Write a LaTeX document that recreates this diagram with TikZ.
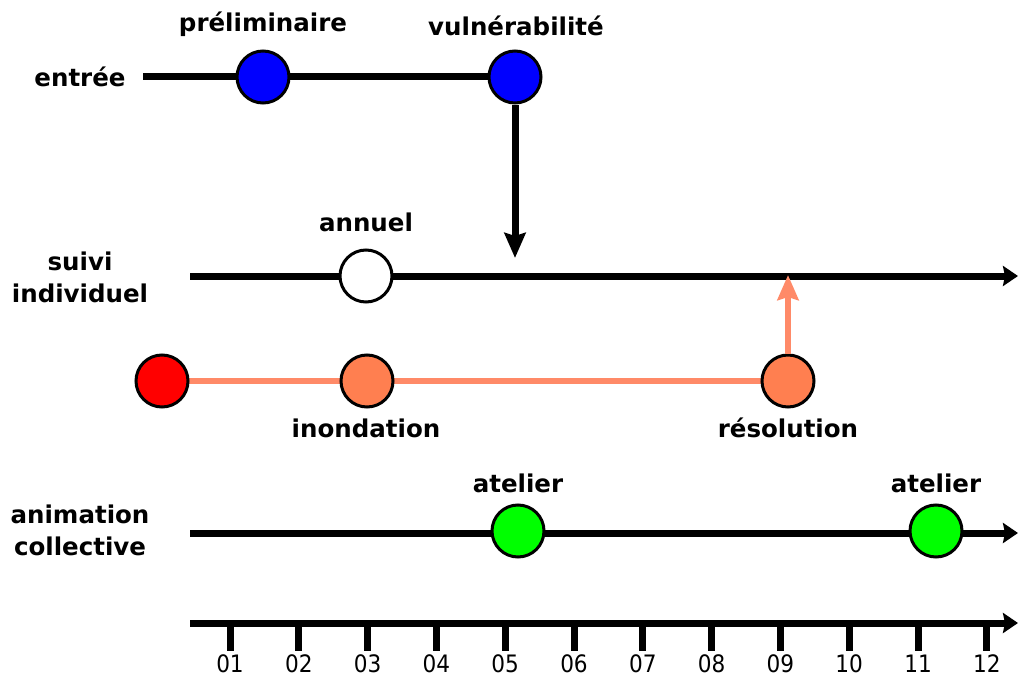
\documentclass[tikz,border=0pt]{standalone}
\usepackage{fontspec}
\setmainfont{DejaVu Sans}
\newfontfamily\condfont{DejaVu Sans Condensed}
\usetikzlibrary{arrows.meta,backgrounds}
\definecolor{coralfill}{RGB}{255,127,80}
\definecolor{coralline}{RGB}{255,138,104}
\tikzset{
  dot/.style={circle,draw=black,line width=3pt,minimum size=52pt,inner sep=0pt},
  lbl/.style={font=\fontsize{24.5}{32}\selectfont\bfseries,align=center,inner sep=0pt},
  num/.style={font=\fontsize{24}{26}\selectfont\condfont,inner sep=0pt},
  thick line/.style={line width=7pt,draw=black},
  big arrow/.style={-{Stealth[length=25pt,width=21pt,inset=3pt]}},
  axis arrow/.style={-{Stealth[length=15pt,width=20pt,inset=2pt]}},
  tick/.style={line width=7pt}
}
\begin{document}
\begin{tikzpicture}[x=1pt,y=-1pt]
\useasboundingbox (0,0) rectangle (1018,677);
% row labels
\node[lbl] (lentree) at (80,77) {entrée};
\node[lbl] (lsuivi) at (80,277) {suivi\\individuel};
\node[lbl] (lanim) at (80,530) {animation\\collective};
% entree row
\coordinate (e0) at (143,77);
\node[dot,fill=blue] (pre) at (263,77) {};
\node[dot,fill=blue] (vul) at (515,77) {};
\node[lbl] (tpre) at (263,24) {préliminaire};
\node[lbl] (tvul) at (516,26) {vulnérabilité};
\coordinate (vularr) at (515,258);
% suivi individuel row
\coordinate (s0) at (190,276);
\coordinate (s1) at (1018,276);
\node[dot,fill=white] (ann) at (366,276) {};
\node[lbl] (tann) at (366,222) {annuel};
% orange row
\node[dot,fill=red] (red) at (162,381) {};
\node[dot,fill=coralfill] (ino) at (367,381) {};
\node[dot,fill=coralfill] (res) at (788,381) {};
\node[lbl] (tino) at (366,428) {inondation};
\node[lbl] (tres) at (788,428) {résolution};
\coordinate (resarr) at (788,275);
% animation collective row
\coordinate (a0) at (190,533);
\coordinate (a1) at (1018,533);
\node[dot,fill=green] (at1) at (518,531) {};
\node[dot,fill=green] (at2) at (936,531) {};
\node[lbl] (tat1) at (518,483) {atelier};
\node[lbl] (tat2) at (936,483) {atelier};
% axis
\coordinate (x0) at (190,623);
\coordinate (x1) at (1018,623);
\begin{scope}[on background layer]
  \draw[thick line] (e0) -- (pre.center) -- (vul.center);
  \draw[thick line,axis arrow] (s0) -- (s1);
  \draw[thick line,axis arrow] (a0) -- (a1);
  \draw[coralline,line width=6pt] (red.center) -- (ino.center) -- (res.center);
\end{scope}
\draw[thick line,big arrow] (vul.south) -- (vularr);
\draw[coralline,line width=6pt,big arrow] (res.north) -- (resarr);
\draw[thick line,axis arrow] (x0) -- (x1);
\foreach \i/\t in {1/01,2/02,3/03,4/04,5/05,6/06,7/07,8/08,9/09,10/10,11/11,12/12}{
  \coordinate (tk\i) at ({230+(\i-1)*68.8},623);
  \draw[tick] (tk\i) -- ++(0,28);
  \node[num] (n\i) at ({230+(\i-1)*68.8},664) {\t};
}
\end{tikzpicture}
\end{document}
